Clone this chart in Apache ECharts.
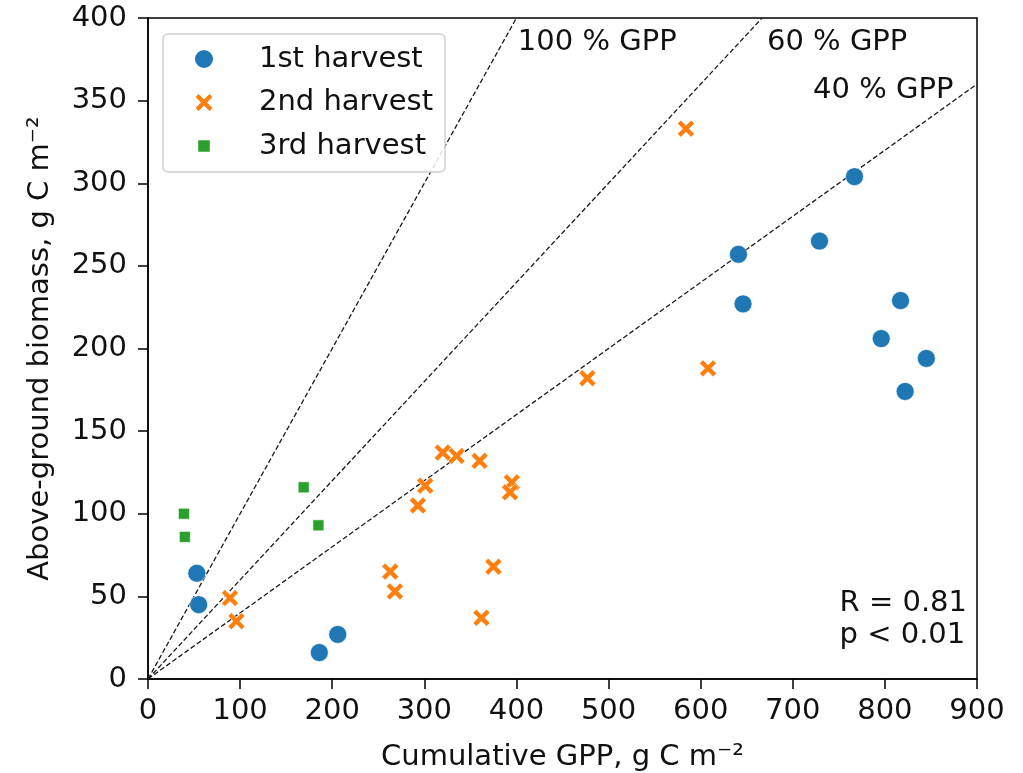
<!DOCTYPE html>
<html>
<head>
<meta charset="utf-8">
<script src="https://cdn.jsdelivr.net/npm/echarts@6/dist/echarts.min.js"></script>
<style>
  html, body { margin: 0; padding: 0; background: #fff; }
  #chart { width: 1023px; height: 773px; }
</style>
</head>
<body>
<div id="chart"></div>
<script>
// Harvest observations: [cumulative GPP, above-ground biomass] in g C m^-2
const harvest1 = [[53, 64], [55, 45], [186, 16], [206, 27], [641, 257], [646, 227],
                  [729, 265], [767, 304], [796, 206], [817, 229], [845, 194], [822, 174]];
const harvest2 = [[584, 333], [608, 188], [477, 182], [320, 137], [335, 135], [360, 132],
                  [301, 117], [293, 105], [395, 119], [393, 113], [89, 49], [96, 35],
                  [263, 65], [268, 53], [375, 68], [362, 37]];
const harvest3 = [[39, 100], [40, 86], [169, 116], [185, 93]];

// Reference lines: fraction of GPP ending up as biomass
const gppFractions = [1.0, 0.6, 0.4];
const gppLabels = ['100 % GPP', '60 % GPP', '40 % GPP'];
const gppLabelAnchors = [[401.5, 385], [672, 385], [722, 356]];

const xTicks = { min: 0, max: 900, interval: 100 };
const yTicks = { min: 0, max: 400, interval: 50 };

const FONT = 'DejaVu Sans';
const FS = 29;
const INK = '#111';
const crossPath = 'path://M2,0 L5,3 L8,0 L10,2 L7,5 L10,8 L8,10 L5,7 L2,10 L0,8 L3,5 L0,2 Z';
// Legend glyphs share one 18x18 box; tiny corner specks fix the box so the
// square and the cross keep their own smaller sizes inside it.
const legendBox = 'M0,0 L0.01,0 L0,0.01 Z M18,18 L17.99,18 L18,17.99 Z ';
const legendSquare = 'path://' + legendBox + 'M3.2,3.2 L14.8,3.2 L14.8,14.8 L3.2,14.8 Z';
const legendCross = 'path://' + legendBox +
  'M3.6,0.6 L9,6 L14.4,0.6 L17.4,3.6 L12,9 L17.4,14.4 L14.4,17.4 L9,12 L3.6,17.4 L0.6,14.4 L6,9 L0.6,3.6 Z';

const refLineSeries = gppFractions.map(f => {
  const xEnd = Math.min(xTicks.max, yTicks.max / f);
  return {
    type: 'line',
    data: [[0, 0], [xEnd, xEnd * f]],
    symbol: 'none',
    silent: true,
    lineStyle: { color: '#1a1a1a', width: 1.3, type: [5, 2.5] },
    z: 1
  };
});

const axisCommon = {
  type: 'value',
  nameLocation: 'middle',
  nameTextStyle: { fontFamily: FONT, fontSize: FS, color: INK },
  axisLine: { show: true, onZero: false, lineStyle: { color: '#000', width: 1.5 } },
  axisTick: { show: true, inside: false, length: 10, lineStyle: { color: '#000', width: 1.5 } },
  splitLine: { show: false }
};

const chart = echarts.init(document.getElementById('chart'), null, { renderer: 'canvas' });

chart.setOption({
  animation: false,
  backgroundColor: '#fff',
  textStyle: { fontFamily: FONT },
  grid: {
    left: 148, right: 46, top: 18, bottom: 94,
    outerBoundsMode: 'none',
    show: true, borderColor: '#000', borderWidth: 1.5, backgroundColor: 'transparent'
  },
  xAxis: Object.assign({}, axisCommon, {
    min: xTicks.min, max: xTicks.max, interval: xTicks.interval,
    name: 'Cumulative GPP, g C m⁻²',
    nameGap: 64,
    axisLabel: { fontFamily: FONT, fontSize: FS, color: INK, margin: 18 }
  }),
  yAxis: Object.assign({}, axisCommon, {
    min: yTicks.min, max: yTicks.max, interval: yTicks.interval,
    name: 'Above-ground biomass, g C m⁻²',
    nameGap: 93,
    axisLabel: { fontFamily: FONT, fontSize: FS, color: INK, margin: 21 }
  }),
  legend: {
    orient: 'vertical',
    left: 163, top: 34,
    padding: [10, 12, 11, 32],
    itemWidth: 18, itemHeight: 18, itemGap: 13.5,
    itemStyle: { borderWidth: 0 },
    backgroundColor: 'rgba(255,255,255,0.85)',
    borderColor: '#d0d0d0', borderWidth: 1.5, borderRadius: 5,
    textStyle: { fontFamily: FONT, fontSize: FS, color: INK, padding: [0, 0, 0, 41], lineHeight: 30 },
    data: [
      { name: '1st harvest', icon: 'circle' },
      { name: '2nd harvest', icon: legendCross },
      { name: '3rd harvest', icon: legendSquare }
    ]
  },
  series: [
    ...refLineSeries,
    {
      name: 'label-anchors',
      type: 'scatter',
      data: gppLabelAnchors.map((p, i) => ({ value: p, name: gppLabels[i] })),
      symbolSize: 0,
      silent: true,
      itemStyle: { opacity: 1 },
      label: {
        show: true, position: 'right', distance: 0,
        formatter: p => p.name,
        fontFamily: FONT, fontSize: FS, color: INK
      },
      z: 5
    },
    {
      name: '1st harvest',
      type: 'scatter',
      data: harvest1,
      symbol: 'circle', symbolSize: 18,
      itemStyle: { color: '#1f77b4', borderColor: '#fff', borderWidth: 0.6, opacity: 1 },
      z: 3
    },
    {
      name: '2nd harvest',
      type: 'scatter',
      data: harvest2,
      symbol: crossPath, symbolSize: 17,
      itemStyle: { color: '#ff7f0e', borderColor: '#fff', borderWidth: 0.6, opacity: 1 },
      z: 3
    },
    {
      name: '3rd harvest',
      type: 'scatter',
      data: harvest3,
      symbol: 'rect', symbolSize: 11,
      itemStyle: { color: '#2ca02c', borderColor: '#fff', borderWidth: 0.6, opacity: 1 },
      z: 3
    }
  ],
  graphic: [
    {
      type: 'text',
      right: 56, top: 587,
      style: {
        text: 'R = 0.81\np < 0.01',
        font: FS + 'px "DejaVu Sans"',
        fill: INK,
        align: 'right',
        lineHeight: 32
      }
    }
  ]
});
</script>
</body>
</html>
